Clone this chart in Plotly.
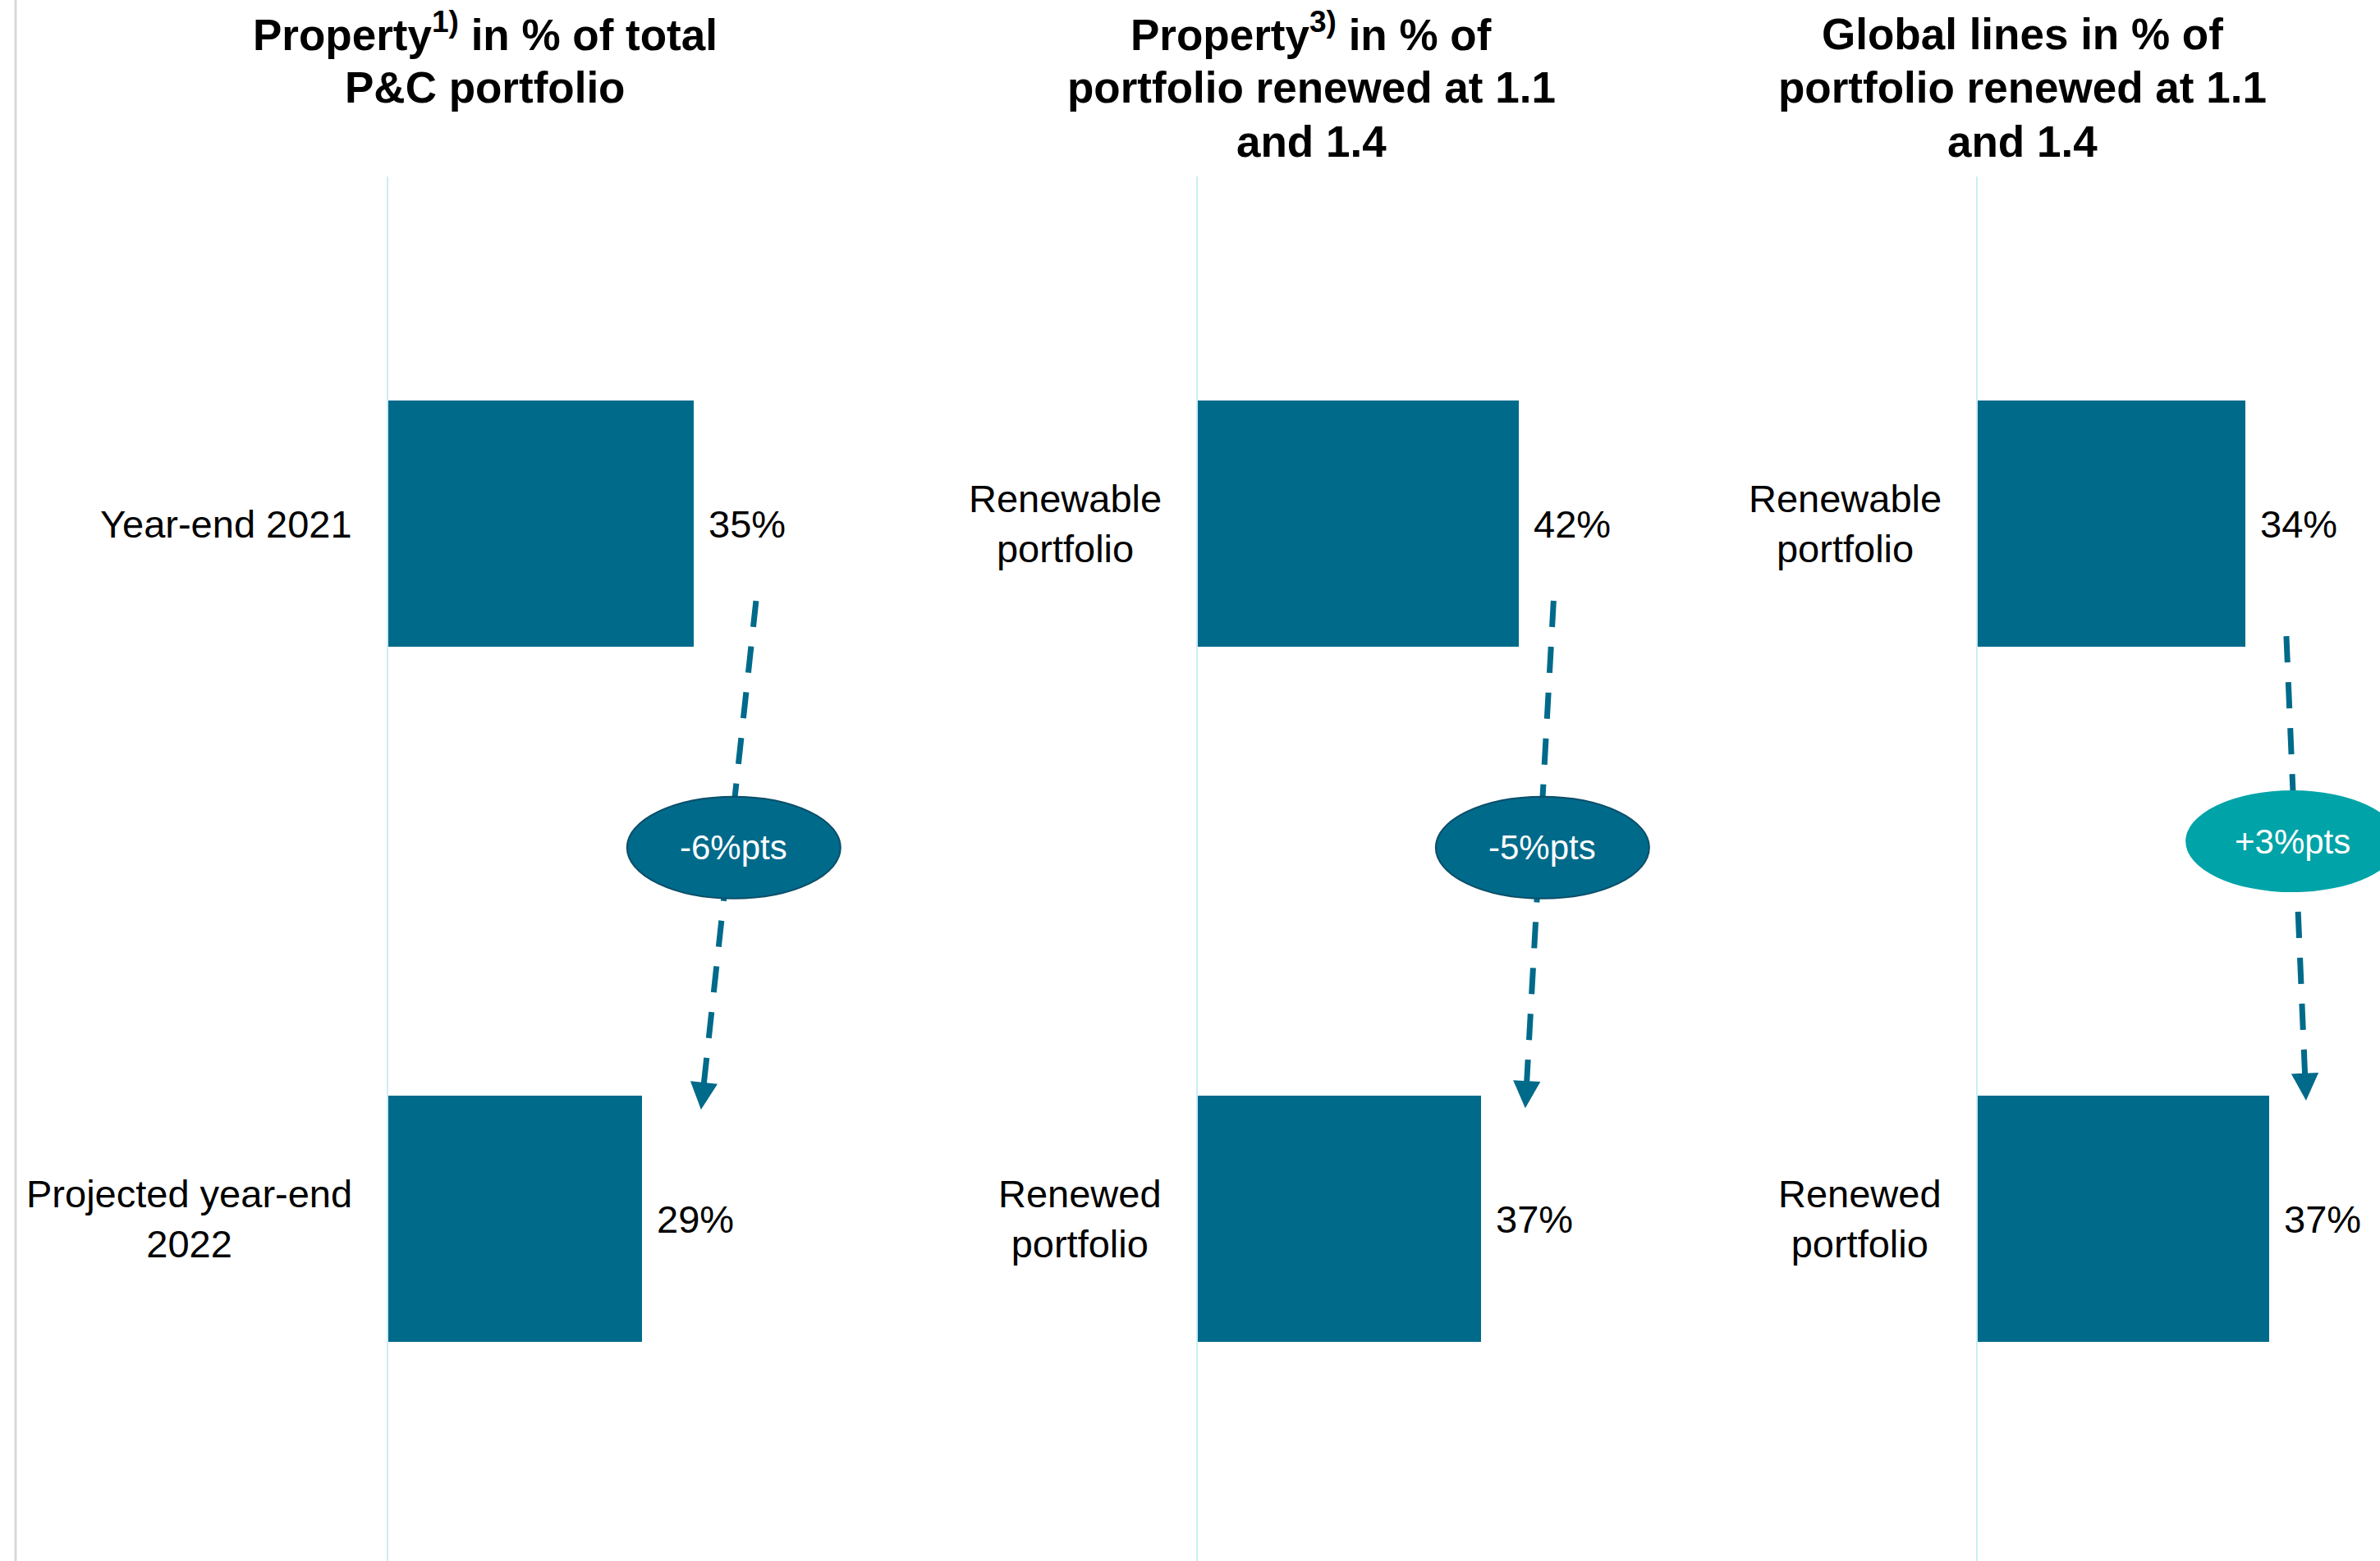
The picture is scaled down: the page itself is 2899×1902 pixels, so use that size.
import plotly.graph_objects as go

# ---------------------------------------------------------------- data
panel_titles = [
    ["Property<sup>1)</sup> in % of total", "P&C portfolio"],
    ["Property<sup>3)</sup> in % of", "portfolio renewed at 1.1", "and 1.4"],
    ["Global lines in % of", "portfolio renewed at 1.1", "and 1.4"],
]

panel1_categories = ["Year-end 2021", "Projected year-end<br>2022"]
panel2_categories = ["Renewable<br>portfolio", "Renewed<br>portfolio"]
panel3_categories = ["Renewable<br>portfolio", "Renewed<br>portfolio"]

panel1_values = [35, 29]
panel2_values = [42, 37]
panel3_values = [34, 37]

# ---------------------------------------------------------------- style
FIG_W, FIG_H = 2899, 1902
BAR_COLOR = "#006A8B"
AXIS_COLOR = "#C9EEF8"
FONT = "Arial, Liberation Sans, Helvetica, sans-serif"

TITLE_SIZE = 53
TITLE_LINE0_PX = 42      # centre of the first title line
TITLE_LINE_STEP_PX = 65  # distance between title lines

# per-panel geometry (pixels for domains, axis units for connectors)
panel_style = [
    dict(left=473, right=1100, xmax=58.93, title_x=591,
         arrow_dx=(7.1, 6.8), arrow_y=(0.111, 0.843), bubble_dx=0.6, bubble_y=0.466,
         bubble_fill="#006A8B", bubble_line="#0C4E68"),
    dict(left=1459, right=2100, xmax=68.78, title_x=1597,
         arrow_dx=(4.5, 5.8), arrow_y=(0.111, 0.841), bubble_dx=0.4, bubble_y=0.466,
         bubble_fill="#006A8B", bubble_line="#0C4E68"),
    dict(left=2409, right=2899, xmax=51.09, title_x=2463,
         arrow_dx=(5.2, 4.7), arrow_y=(0.162, 0.830), bubble_dx=-0.5, bubble_y=0.457,
         bubble_fill="#00A3A8", bubble_line="rgba(0,0,0,0)"),
]

panels = [
    (panel1_categories, panel1_values),
    (panel2_categories, panel2_values),
    (panel3_categories, panel3_values),
]

Y_TOP_PX = 215
Y_RANGE = [1.4923, -0.4994]
BAR_WIDTH = 0.354

fig = go.Figure()
shapes, annotations = [], []
layout_axes = {}

for i, ((cats, vals), st) in enumerate(zip(panels, panel_style)):
    n = "" if i == 0 else str(i + 1)
    xa, ya = "x" + n, "y" + n
    pos = list(range(len(vals)))

    fig.add_trace(go.Bar(
        x=vals, y=pos, orientation="h", width=BAR_WIDTH,
        marker=dict(color=BAR_COLOR, line=dict(width=0)),
        xaxis=xa, yaxis=ya, showlegend=False, hoverinfo="skip",
    ))

    # dashed connector from the first bar down to the second
    ax0 = vals[0] + st["arrow_dx"][0]
    ax1 = vals[1] + st["arrow_dx"][1]
    ay0, ay1 = st["arrow_y"]
    fig.add_trace(go.Scatter(
        x=[ax0, ax1 - 0.03 * (ax1 - ax0)], y=[ay0, ay1 - 0.03 * (ay1 - ay0)],
        mode="lines",
        line=dict(color=BAR_COLOR, width=7, dash="32px,24px"),
        xaxis=xa, yaxis=ya, showlegend=False, hoverinfo="skip",
    ))
    # arrow head at the end of the connector
    annotations.append(dict(
        x=ax1, y=ay1, xref=xa, yref=ya, text="", showarrow=True,
        ax=ax1 - 0.05 * (ax1 - ax0), ay=ay1 - 0.05 * (ay1 - ay0),
        axref=xa, ayref=ya, arrowhead=2, arrowsize=0.95, arrowwidth=7,
        arrowcolor=BAR_COLOR,
    ))

    layout_axes["xaxis" + n] = dict(
        domain=[st["left"] / FIG_W, st["right"] / FIG_W], range=[0, st["xmax"]],
        visible=False, fixedrange=True, anchor=ya,
    )
    layout_axes["yaxis" + n] = dict(
        domain=[0, 1 - Y_TOP_PX / FIG_H], range=Y_RANGE, anchor=xa,
        showline=True, linecolor=AXIS_COLOR, linewidth=2,
        showgrid=False, zeroline=False, showticklabels=False, ticks="",
        fixedrange=True,
    )

    # change bubble
    delta = vals[1] - vals[0]
    bx = (ax0 + ax1) / 2 + st["bubble_dx"]
    by = st["bubble_y"]
    shapes.append(dict(
        type="circle", xref=xa, yref=ya, xsizemode="pixel", ysizemode="pixel",
        xanchor=bx, yanchor=by, x0=-130, x1=130, y0=-62, y1=62,
        fillcolor=st["bubble_fill"], line=dict(color=st["bubble_line"], width=2),
        layer="above",
    ))
    annotations.append(dict(
        x=bx, y=by, xref=xa, yref=ya, text=f"{delta:+d}%pts", showarrow=False,
        font=dict(family=FONT, size=42, color="white"),
        xanchor="center", yanchor="middle",
    ))

    # category labels and value labels
    for p, (c, v) in enumerate(zip(cats, vals)):
        annotations.append(dict(
            x=0, xref=xa + " domain", y=p, yref=ya, text=c, showarrow=False,
            xanchor="right", yanchor="middle", xshift=-42, align="center",
            font=dict(family=FONT, size=47, color="black"),
        ))
        annotations.append(dict(
            x=v, xref=xa, y=p, yref=ya, text=f"{v}%", showarrow=False,
            xanchor="left", yanchor="middle", xshift=16,
            font=dict(family=FONT, size=47, color="black"),
        ))

    # panel title, one annotation per line
    for k, line in enumerate(panel_titles[i]):
        yc = TITLE_LINE0_PX + k * TITLE_LINE_STEP_PX
        annotations.append(dict(
            x=st["title_x"] / FIG_W, xref="paper", y=1 - yc / FIG_H, yref="paper",
            text=line, showarrow=False, xanchor="center", yanchor="middle",
            yshift=3 if "<sup>" in line else 0,
            font=dict(family=FONT, size=TITLE_SIZE, color="black", weight="bold"),
        ))

# thin grey rule on the far left
shapes.append(dict(
    type="line", xref="paper", yref="paper", x0=19 / FIG_W, x1=19 / FIG_W,
    y0=0, y1=1, line=dict(color="#D9D9D9", width=3), layer="below",
))

fig.update_layout(
    width=FIG_W, height=FIG_H,
    margin=dict(l=0, r=0, t=0, b=0),
    paper_bgcolor="white", plot_bgcolor="white",
    shapes=shapes, annotations=annotations,
    bargap=0, showlegend=False,
    **layout_axes,
)

fig.write_html("out.html")
